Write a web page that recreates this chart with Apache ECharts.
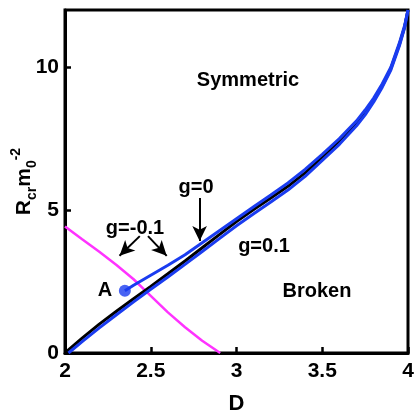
<!DOCTYPE html>
<html>
<head>
<meta charset="utf-8">
<script src="https://cdn.jsdelivr.net/npm/echarts@6/dist/echarts.min.js"></script>
<style>html,body{margin:0;padding:0;background:#fff;}#c{width:414px;height:416px;}</style>
</head>
<body>
<div id="c"></div>
<script>
// ---- data ----
const xTicks = [2, 2.5, 3, 3.5, 4];
const yTicks = [0, 5, 10];

// g = 0 (black)
const g0X = [2, 2.1, 2.2, 2.3, 2.4, 2.5, 2.6, 2.7, 2.8, 2.9, 3.0, 3.1, 3.2, 3.3, 3.4, 3.5, 3.6, 3.7, 3.75, 3.8, 3.85, 3.9, 3.95, 3.98, 4.0];
const g0Y = [0, 0.52, 1.01, 1.46, 1.9, 2.33, 2.77, 3.22, 3.68, 4.14, 4.6, 5.02, 5.42, 5.83, 6.3, 6.85, 7.42, 8.05, 8.42, 8.85, 9.35, 9.95, 10.8, 11.4, 12.0];

// g = -0.1 (upper blue, starts at point A)
const gm1X = [2.349, 2.4, 2.5, 2.6, 2.7, 2.8, 2.9, 3.0, 3.1, 3.2, 3.3, 3.4, 3.5, 3.6, 3.7, 3.75, 3.8, 3.85, 3.9, 3.95, 3.98, 4.0];
const gm1Y = [2.18, 2.37, 2.72, 3.07, 3.44, 3.86, 4.28, 4.7, 5.12, 5.53, 5.95, 6.42, 6.95, 7.5, 8.12, 8.5, 8.92, 9.42, 10.0, 10.85, 11.45, 12.0];

// g = 0.1 (lower blue)
const gp1X = [2.02, 2.1, 2.2, 2.3, 2.4, 2.5, 2.6, 2.7, 2.8, 2.9, 3.0, 3.1, 3.2, 3.3, 3.4, 3.5, 3.6, 3.7, 3.75, 3.8, 3.85, 3.9, 3.95, 3.98, 4.0];
const gp1Y = [0, 0.4, 0.88, 1.34, 1.79, 2.23, 2.66, 3.1, 3.55, 4.0, 4.45, 4.87, 5.28, 5.7, 6.18, 6.74, 7.3, 7.95, 8.33, 8.78, 9.3, 9.9, 10.75, 11.38, 12.0];

// magenta curve
const magX = [2, 2.1, 2.2, 2.3, 2.4, 2.5, 2.6, 2.7, 2.8, 2.905];
const magY = [4.43, 3.98, 3.54, 3.08, 2.58, 2.0, 1.42, 0.9, 0.43, 0];

// point A
const pointA = [2.349, 2.18];

// ---- build ----
const zip = (xs, ys) => xs.map((x, i) => [x, ys[i]]);
const FONT = '"Liberation Sans", Arial, sans-serif';
const BLUE = '#1a3cf0';
const MAG = '#ff33ff';

const chart = echarts.init(document.getElementById('c'), null, {renderer: 'canvas'});

const arrowStyle = {color: '#000', width: 2, type: 'solid'};
const textItem = (t, x, y, fs) => ({
  type: 'text', x: x, y: y,
  style: {text: t, fill: '#000', font: 'bold ' + (fs || 20) + 'px ' + FONT, textAlign: 'center', textVerticalAlign: 'middle'}
});

chart.setOption({
  animation: false,
  backgroundColor: '#fff',
  grid: {left: 65, top: 10, right: 6, bottom: 63, containLabel: false, outerBoundsMode: 'none',
    show: true, borderColor: '#000', borderWidth: 3, backgroundColor: 'transparent'},
  xAxis: {
    type: 'value', min: 2, max: 4, interval: 0.5,
    name: 'D', nameLocation: 'middle', nameGap: 40, nameMoveOverlap: false,
    nameTextStyle: {fontFamily: FONT, fontWeight: 'bold', fontSize: 22, color: '#000'},
    axisLine: {show: true, onZero: false, lineStyle: {color: '#000', width: 3}},
    axisTick: {show: true, inside: true, length: 6, lineStyle: {color: '#000', width: 2.5}},
    axisLabel: {fontFamily: FONT, fontWeight: 'bold', fontSize: 21, color: '#000', margin: 8,
      formatter: v => xTicks.includes(v) ? String(v) : ''},
    splitLine: {show: false}
  },
  yAxis: {
    type: 'value', min: 0, max: 12, interval: 5,
    name: '{b|R}{s|cr}{b|m}{s|0}{p|-2}', nameLocation: 'middle', nameGap: 26, nameRotate: 90,
    nameMoveOverlap: false,
    nameTextStyle: {
      color: '#000',
      rich: {
        b: {fontFamily: FONT, fontWeight: 'bold', fontSize: 21, lineHeight: 30, verticalAlign: 'middle', color: '#000'},
        s: {fontFamily: FONT, fontWeight: 'bold', fontSize: 14, lineHeight: 14, verticalAlign: 'bottom', color: '#000'},
        p: {fontFamily: FONT, fontWeight: 'bold', fontSize: 14, lineHeight: 14, verticalAlign: 'top', color: '#000'}
      }
    },
    axisLine: {show: true, onZero: false, lineStyle: {color: '#000', width: 3}},
    axisTick: {show: true, inside: true, length: 6, lineStyle: {color: '#000', width: 2.5}},
    axisLabel: {fontFamily: FONT, fontWeight: 'bold', fontSize: 21, color: '#000', margin: 6, showMaxLabel: false,
      formatter: v => yTicks.includes(v) ? String(v) : ''},
    splitLine: {show: false}
  },
  series: [
    {
      type: 'line', name: 'mag', data: zip(magX, magY), showSymbol: false, smooth: false,
      lineStyle: {color: MAG, width: 2.5}, z: 2
    },
    {
      type: 'line', name: 'g=0', data: zip(g0X, g0Y), showSymbol: false, smooth: false,
      lineStyle: {color: '#000', width: 3}, z: 3,
      markLine: {
        silent: true, symbol: ['none', 'arrow'], symbolSize: [11, 15],
        lineStyle: arrowStyle, label: {show: false},
        data: [
          [{coord: [2.785, 5.42]}, {coord: [2.785, 3.92]}],
          [{coord: [2.436, 4.09]}, {coord: [2.318, 3.4]}],
          [{coord: [2.484, 4.09]}, {coord: [2.593, 3.4]}]
        ]
      }
    },
    {
      type: 'line', name: 'g=-0.1', data: zip(gm1X, gm1Y), showSymbol: false, smooth: false,
      lineStyle: {color: BLUE, width: 3}, z: 4
    },
    {
      type: 'line', name: 'g=0.1', data: zip(gp1X, gp1Y), showSymbol: false, smooth: false,
      lineStyle: {color: BLUE, width: 3}, z: 4
    },
    {
      type: 'scatter', name: 'A', data: [pointA], symbol: 'circle', symbolSize: 12,
      itemStyle: {color: BLUE}, z: 5
    }
  ],
  graphic: [
    textItem('Symmetric', 248, 80),
    textItem('Broken', 317, 291),
    textItem('g=0.1', 264, 246),
    textItem('g=0', 196, 187),
    textItem('g=-0.1', 135, 228),
    textItem('A', 105, 290)
  ]
});
</script>
</body>
</html>
